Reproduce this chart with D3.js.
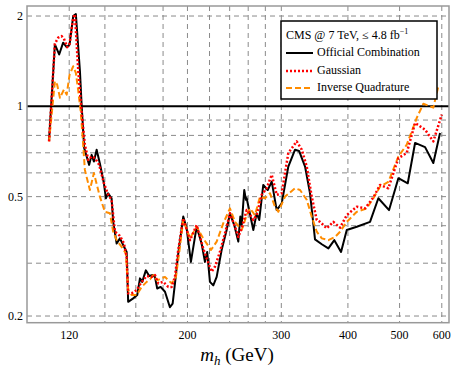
<!DOCTYPE html>
<html>
<head>
<meta charset="utf-8">
<script src="https://cdn.jsdelivr.net/npm/d3@7"></script>
<style>
	body { margin: 0; background: #fff; }
	text { font-family: "Liberation Serif", "Times New Roman", serif; }
</style>
</head>
<body>
<svg id="svg" width="451" height="368"></svg>
<script>
"use strict";

// Higgs mass points (GeV) and signal strength limits
const officialMass = [110, 112.8, 114.9, 116.9, 118.7, 120.2, 122.1, 123.5, 125.7, 126.6, 128, 130.8, 132.2, 133.5, 135.1, 137, 139.4, 140.6, 142, 144.1, 145.1, 147.3, 149.4, 151.5, 153.8, 154.8, 158.2, 161, 162.9, 164.5, 167.1, 169.5, 172.1, 173.8, 175.5, 178.1, 181.5, 185.4, 187.6, 189.5, 192.2, 196.4, 199.3, 203, 208.1, 212.6, 215.7, 217.8, 220.4, 223.6, 226.9, 231.8, 236.9, 240.3, 244.8, 249.1, 251.3, 252.8, 255.6, 257.5, 258.3, 265.8, 269.7, 272.7, 277.5, 282.9, 287.8, 294.1, 300.5, 309.2, 318.3, 323.9, 332.4, 339.6, 347, 357.3, 367.6, 377.2, 388.3, 398, 415.6, 440.1, 456.2, 477.8, 497.4, 518, 534.6, 558.2, 578.5, 595.5];
const officialLimit = [0.77, 1.608, 1.489, 1.63, 1.575, 1.608, 2.0, 2.03, 1.309, 1.013, 0.726, 0.638, 0.689, 0.655, 0.717, 0.645, 0.554, 0.494, 0.513, 0.494, 0.412, 0.349, 0.363, 0.345, 0.327, 0.223, 0.229, 0.235, 0.267, 0.26, 0.284, 0.272, 0.274, 0.27, 0.247, 0.25, 0.241, 0.214, 0.22, 0.257, 0.323, 0.429, 0.392, 0.303, 0.397, 0.349, 0.303, 0.327, 0.26, 0.253, 0.27, 0.332, 0.387, 0.44, 0.402, 0.354, 0.429, 0.402, 0.526, 0.488, 0.494, 0.387, 0.44, 0.418, 0.547, 0.526, 0.561, 0.451, 0.475, 0.63, 0.717, 0.71, 0.63, 0.513, 0.36, 0.347, 0.336, 0.358, 0.327, 0.387, 0.397, 0.412, 0.494, 0.451, 0.576, 0.554, 0.755, 0.731, 0.647, 0.815];

const gaussMass = [110, 112.8, 114.4, 116.1, 117.3, 119, 120.2, 122.1, 123, 124.8, 126.6, 128.4, 130.3, 132.2, 134.1, 136.6, 139.4, 142, 144.1, 146.2, 149.4, 152, 153.8, 154.8, 157.1, 160.6, 164.1, 167.7, 171.3, 173.8, 176.3, 180.1, 184.1, 186.8, 189.5, 192.2, 196.4, 202.2, 208.1, 214.1, 217.3, 222, 225.2, 230.1, 235.2, 240.3, 245.6, 249.1, 252.8, 258.3, 260.1, 265.8, 269.7, 275.6, 281.6, 287.8, 294.1, 300.5, 309.2, 320.6, 327.7, 334.8, 342.1, 349.6, 354.6, 365, 375.6, 386.6, 398, 415.6, 430.8, 446.5, 459.6, 476.3, 497.4, 515.7, 534.6, 558.2, 578.5, 599.9];
const gaussLimit = [0.764, 1.617, 1.693, 1.714, 1.68, 1.575, 1.617, 1.975, 2.026, 1.309, 0.962, 0.745, 0.663, 0.681, 0.672, 0.638, 0.554, 0.507, 0.488, 0.382, 0.37, 0.349, 0.315, 0.238, 0.238, 0.244, 0.26, 0.272, 0.27, 0.274, 0.257, 0.26, 0.25, 0.25, 0.27, 0.332, 0.423, 0.358, 0.402, 0.336, 0.311, 0.281, 0.292, 0.327, 0.377, 0.44, 0.397, 0.367, 0.392, 0.451, 0.445, 0.418, 0.434, 0.507, 0.533, 0.591, 0.507, 0.513, 0.699, 0.764, 0.717, 0.63, 0.5, 0.418, 0.412, 0.392, 0.412, 0.394, 0.434, 0.463, 0.457, 0.497, 0.547, 0.533, 0.672, 0.699, 0.88, 0.836, 0.764, 0.938];

const quadMass = [110, 112.8, 113.9, 115.3, 117.3, 118.7, 120.2, 122.1, 123.5, 124.8, 126.1, 127.2, 128.4, 131.2, 133.5, 137, 140, 143.1, 145.1, 147.3, 150.5, 153.3, 154.8, 157.1, 160.6, 164.1, 167.7, 170.1, 172.5, 175.5, 178.9, 181.5, 184.1, 186.8, 190.3, 193.6, 196.4, 202.2, 208.1, 214.1, 221.4, 226.9, 233.4, 240.3, 245.6, 252.8, 258.3, 262, 267.7, 273.6, 279.6, 285.7, 291.9, 296.1, 304.8, 318.3, 325.3, 334.8, 342.1, 349.6, 357.3, 367.6, 378.4, 386.6, 398, 415.6, 433.9, 446.5, 459.6, 476.3, 497.4, 515.7, 538.5, 554.1, 578.5, 591.1];
const quadLimit = [0.764, 1.212, 1.182, 1.067, 1.137, 1.094, 1.276, 1.36, 1.293, 1.123, 0.962, 0.784, 0.614, 0.526, 0.599, 0.5, 0.445, 0.44, 0.382, 0.358, 0.34, 0.323, 0.244, 0.235, 0.235, 0.25, 0.26, 0.265, 0.274, 0.263, 0.267, 0.27, 0.263, 0.257, 0.27, 0.34, 0.418, 0.363, 0.397, 0.363, 0.332, 0.354, 0.407, 0.457, 0.412, 0.387, 0.434, 0.457, 0.434, 0.5, 0.494, 0.513, 0.463, 0.445, 0.5, 0.533, 0.526, 0.488, 0.429, 0.382, 0.363, 0.358, 0.367, 0.382, 0.412, 0.445, 0.457, 0.494, 0.54, 0.56, 0.68, 0.745, 0.915, 1.02, 0.99, 1.167];

// ticks and grid
const xTicks = [120, 200, 300, 400, 500, 600];
const xGrid = [120, 140, 160, 180, 200, 220, 240, 260, 280, 300, 400, 500, 600];
const yTicks = [0.2, 0.5, 1, 2];
const yGrid = [0.2, 0.3, 0.4, 0.5, 0.6, 0.7, 0.8, 0.9, 2];

const legendLabels = ["Official Combination", "Gaussian", "Inverse Quadrature"];

const svg = d3.select("#svg");
const plot = { left: 27, right: 449, top: 6, bottom: 322.7 };

const x = d3.scaleLog().domain([100, 619]).range([plot.left, plot.right]);
const y = d3.scaleLog().domain([0.19, 2.16]).range([plot.bottom, plot.top]);

svg.append("defs")
	.append("clipPath")
	.attr("id", "clip")
	.append("rect")
	.attr("x", plot.left)
	.attr("y", plot.top)
	.attr("width", plot.right - plot.left)
	.attr("height", plot.bottom - plot.top);

// dashed grid
const grid = svg.append("g").attr("class", "grid");
grid.selectAll(".vgrid")
	.data(xGrid)
	.enter()
	.append("line")
	.attr("x1", (d) => x(d))
	.attr("x2", (d) => x(d))
	.attr("y1", plot.top)
	.attr("y2", plot.bottom)
	.style("stroke", "#8a8a8a")
	.style("stroke-width", "1px")
	.style("stroke-dasharray", "5,4");
grid.selectAll(".hgrid")
	.data(yGrid)
	.enter()
	.append("line")
	.attr("x1", plot.left)
	.attr("x2", plot.right)
	.attr("y1", (d) => y(d))
	.attr("y2", (d) => y(d))
	.style("stroke", "#8a8a8a")
	.style("stroke-width", "1px")
	.style("stroke-dasharray", "5,4");

// solid line at 1
svg.append("line")
	.attr("x1", plot.left)
	.attr("x2", plot.right)
	.attr("y1", y(1))
	.attr("y2", y(1))
	.style("stroke", "#000")
	.style("stroke-width", "2px");

// curves
const line = d3
	.line()
	.x((d) => x(d[0]))
	.y((d) => y(d[1]));

const curves = svg.append("g").attr("clip-path", "url(#clip)");
const series = [
	{ m: officialMass, v: officialLimit, color: "#000", width: 2, dash: null },
	{ m: quadMass, v: quadLimit, color: "#ff8c00", width: 2, dash: "6,3" },
	{ m: gaussMass, v: gaussLimit, color: "#ff0000", width: 2.5, dash: "2,2" },
];
series.forEach((s) => {
	curves
		.append("path")
		.datum(s.m.map((m, i) => [m, s.v[i]]))
		.attr("d", line)
		.style("fill", "none")
		.style("stroke", s.color)
		.style("stroke-width", s.width + "px")
		.style("stroke-dasharray", s.dash)
		.style("stroke-linejoin", "round");
});

// frame
svg.append("rect")
	.attr("x", plot.left)
	.attr("y", plot.top)
	.attr("width", plot.right - plot.left)
	.attr("height", plot.bottom - plot.top)
	.style("fill", "none")
	.style("stroke", "#999")
	.style("stroke-width", "1.5px");

// tick labels
svg.selectAll(".xlab")
	.data(xTicks)
	.enter()
	.append("text")
	.attr("x", (d) => x(d))
	.attr("y", 339)
	.attr("text-anchor", "middle")
	.attr("font-size", "12px")
	.text((d) => d);
svg.selectAll(".ylab")
	.data(yTicks)
	.enter()
	.append("text")
	.attr("x", 23)
	.attr("y", (d) => y(d) + 4)
	.attr("text-anchor", "end")
	.attr("font-size", "12px")
	.text((d) => d);

// axis title
const title = svg
	.append("text")
	.attr("x", 237)
	.attr("y", 361)
	.attr("text-anchor", "middle")
	.attr("font-size", "19px");
title.append("tspan").attr("font-style", "italic").text("m");
title.append("tspan").attr("font-style", "italic").attr("font-size", "13px").attr("dy", 4).text("h");
title.append("tspan").attr("dy", -4).text(" (GeV)");

// legend
const legend = svg.append("g").attr("transform", "translate(281,21)");
legend
	.append("rect")
	.attr("width", 156)
	.attr("height", 78)
	.style("fill", "#fff")
	.style("stroke", "#000")
	.style("stroke-width", "1.5px");
const head = legend.append("text").attr("x", 5).attr("y", 18).attr("font-size", "12px");
head.append("tspan").text("CMS @ 7 TeV, \u2264 4.8 fb");
head.append("tspan").attr("dy", -5).attr("font-size", "8px").text("\u22121");

const rows = legend
	.selectAll(".row")
	.data(series.map((s, i) => ({ s: s, label: legendLabels[[0, 2, 1][i]] })))
	.enter()
	.append("g")
	.attr("transform", (d, i) => `translate(0,${[32, 67, 50][i]})`);
rows.append("line")
	.attr("x1", 5)
	.attr("x2", 32)
	.style("stroke", (d) => d.s.color)
	.style("stroke-width", (d) => d.s.width + "px")
	.style("stroke-dasharray", (d) => d.s.dash);
rows.append("text")
	.attr("x", 36)
	.attr("y", 3)
	.attr("font-size", "12px")
	.text((d) => d.label);
</script>
</body>
</html>
